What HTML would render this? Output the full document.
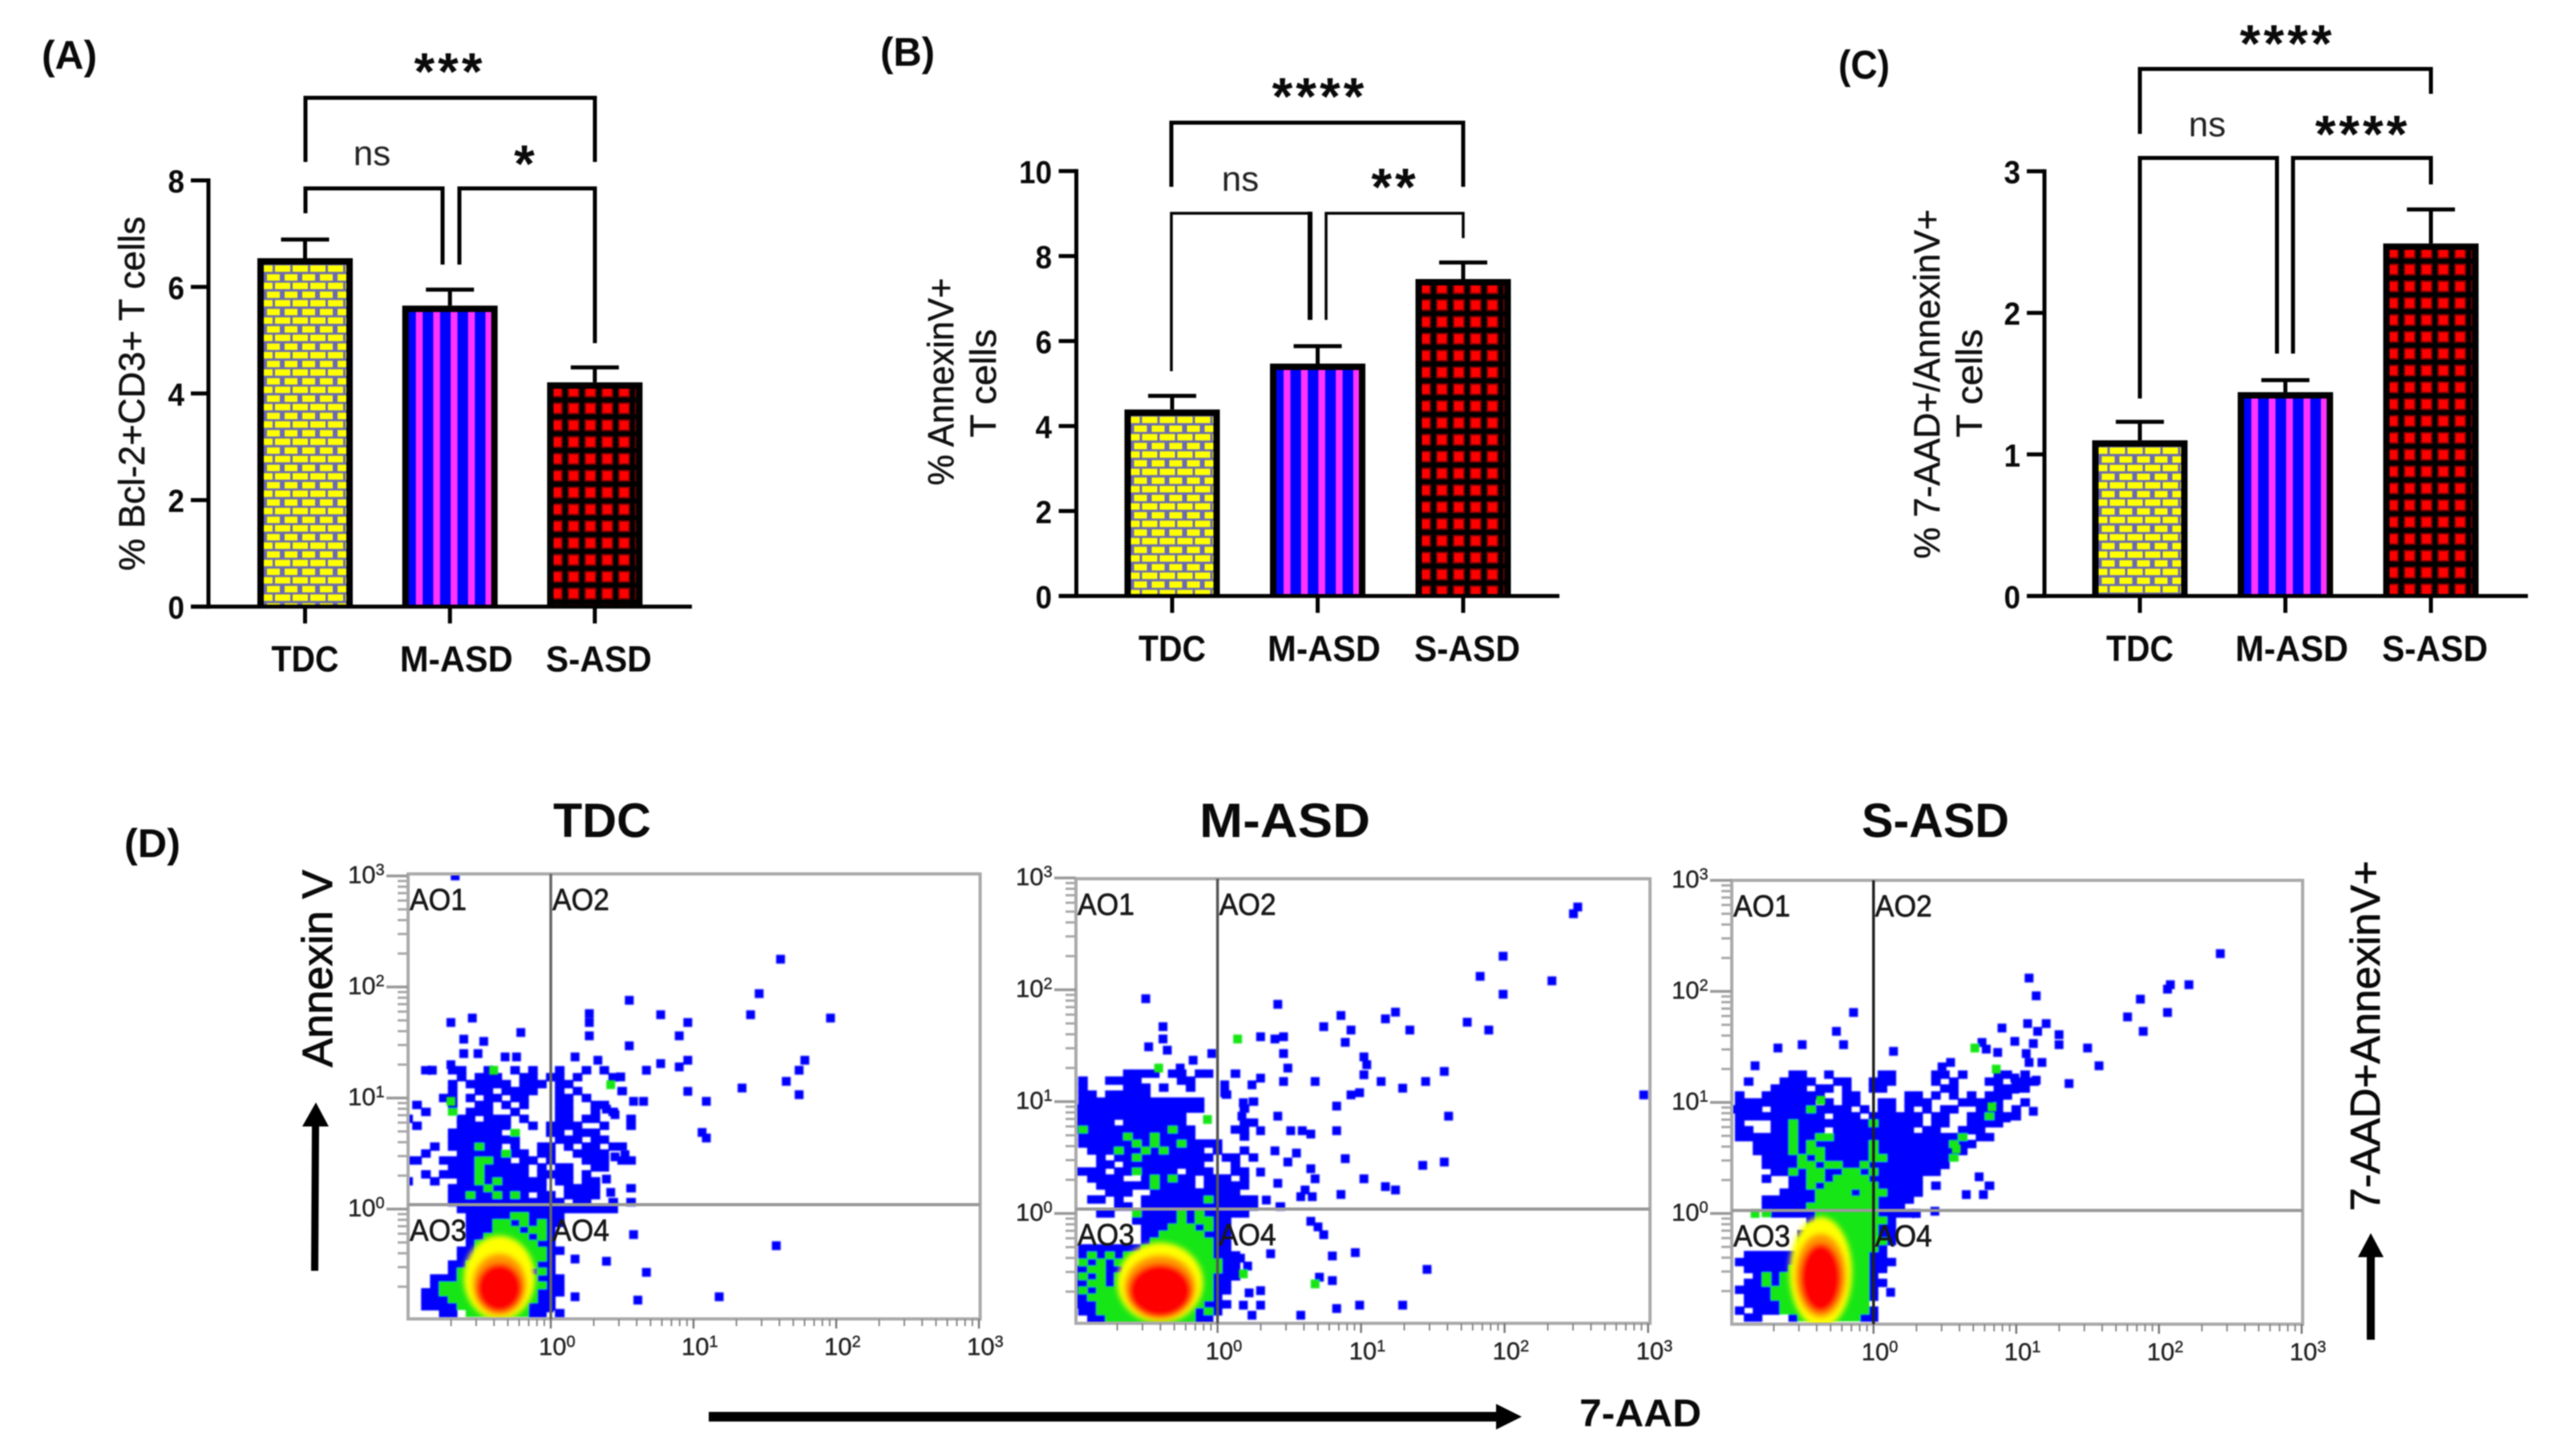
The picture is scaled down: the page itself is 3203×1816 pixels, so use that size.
<!DOCTYPE html>
<html lang="en">
<head>
<meta charset="utf-8">
<title>Apoptosis markers in T cells: TDC, M-ASD and S-ASD</title>
<style>
html,body{margin:0;padding:0;background:#fff;}
svg{display:block;filter:blur(0.7px);}
text{font-family:"Liberation Sans",sans-serif;fill:#0a0a0a;}
.tick{font-weight:700;font-size:40px;}
.cat{font-weight:700;font-size:45px;}
.ytitle{font-size:45px;fill:#111;stroke:#111;stroke-width:.5px;}
.panel{font-weight:700;font-size:50px;}
.flowtitle{font-weight:700;font-size:60px;}
.stars{font-weight:700;font-size:66px;letter-spacing:4px;}
.ns{font-size:44px;fill:#222;}
.br{fill:none;stroke:#000;stroke-width:5;}
</style>
</head>
<body>
<svg id="fig" xmlns="http://www.w3.org/2000/svg" width="3203" height="1816" viewBox="0 0 3203 1816">
<defs>
<pattern id="brick" patternUnits="userSpaceOnUse" width="22" height="21.6">
<rect width="22" height="21.6" fill="#6c6cb0"/>
<rect x="14" y="1" width="8" height="8" fill="#ffff00"/>
<rect x="0" y="1" width="11" height="8" fill="#ffff00"/>
<rect x="4" y="12" width="16" height="8" fill="#ffff00"/>
</pattern>
<pattern id="stripe" patternUnits="userSpaceOnUse" width="21.7" height="20">
<rect width="21.7" height="20" fill="#0000ff"/>
<rect x="9" width="8.5" height="20" fill="#ff33ff"/>
</pattern>
<pattern id="grid" patternUnits="userSpaceOnUse" width="21" height="21" patternTransform="translate(-6.5,-7)">
<rect width="21" height="21" fill="#000"/>
<rect x="3" y="3" width="15" height="15" fill="#800000"/>
<rect x="5" y="5" width="11" height="11" fill="#ff0000"/>
</pattern>
<filter id="soft" x="-10%" y="-10%" width="120%" height="120%"><feGaussianBlur stdDeviation="0.9"/></filter>
<filter id="softBlob" x="-30%" y="-30%" width="160%" height="160%"><feGaussianBlur stdDeviation="3.5"/></filter>
</defs>

<!-- panel letters -->
<text class="panel" x="52" y="86" textLength="69" lengthAdjust="spacingAndGlyphs">(A)</text>
<text class="panel" x="1098" y="82" textLength="68" lengthAdjust="spacingAndGlyphs">(B)</text>
<text class="panel" x="2293" y="98" textLength="64" lengthAdjust="spacingAndGlyphs">(C)</text>
<text class="panel" x="155" y="1069" textLength="70" lengthAdjust="spacingAndGlyphs">(D)</text>

<!-- y axis titles -->
<text class="ytitle" transform="translate(180,491) rotate(-90)" text-anchor="middle" textLength="442" lengthAdjust="spacingAndGlyphs">% Bcl-2+CD3+ T cells</text>
<text class="ytitle" transform="translate(1189,476) rotate(-90)" text-anchor="middle" textLength="259" lengthAdjust="spacingAndGlyphs">% AnnexinV+</text>
<text class="ytitle" transform="translate(1242,478) rotate(-90)" text-anchor="middle" textLength="135" lengthAdjust="spacingAndGlyphs">T cells</text>
<text class="ytitle" transform="translate(2419,479) rotate(-90)" text-anchor="middle" textLength="436" lengthAdjust="spacingAndGlyphs">% 7-AAD+/AnnexinV+</text>
<text class="ytitle" transform="translate(2472,478) rotate(-90)" text-anchor="middle" textLength="135" lengthAdjust="spacingAndGlyphs">T cells</text>

<!-- significance brackets, panel A -->
<g>
<path class="br" d="M381 202V122H742V202"/>
<path class="br" d="M381 266V235H552V330"/>
<path class="br" d="M573 330V235H742V428"/>
<text class="stars" x="561" y="112" text-anchor="middle">***</text>
<text class="ns" x="464" y="206" text-anchor="middle">ns</text>
<text class="stars" x="656" y="227" text-anchor="middle">*</text>
</g>

<!-- significance brackets, panel B -->
<g>
<path class="br" d="M1461 233V153H1825V233"/>
<path class="br" style="stroke-width:3.5" d="M1461 463V266H1634"/>
<path class="br" style="stroke-width:6" d="M1634 264V399"/>
<path class="br" style="stroke-width:3.5" d="M1654 399V266H1825V297"/>
<text class="stars" x="1646" y="143" text-anchor="middle">****</text>
<text class="ns" x="1547" y="238" text-anchor="middle">ns</text>
<text class="stars" x="1740" y="256" text-anchor="middle">**</text>
</g>

<!-- significance brackets, panel C -->
<g>
<path class="br" d="M2669 167V86H3032V117"/>
<path class="br" d="M2669 497V197H2840V441"/>
<path class="br" d="M2860 441V197H3032V230"/>
<text class="stars" x="2853" y="77" text-anchor="middle">****</text>
<text class="ns" x="2753" y="170" text-anchor="middle">ns</text>
<text class="stars" x="2947" y="190" text-anchor="middle">****</text>
</g>

<g id="bars"></g>
<g id="flow"></g>

<!-- flow panel titles -->
<text class="flowtitle" x="690" y="1044" textLength="122" lengthAdjust="spacingAndGlyphs">TDC</text>
<text class="flowtitle" x="1496" y="1044" textLength="213" lengthAdjust="spacingAndGlyphs">M-ASD</text>
<text class="flowtitle" x="2322" y="1044" textLength="184" lengthAdjust="spacingAndGlyphs">S-ASD</text>

<!-- flow axis labels and arrows -->
<text transform="translate(414,1208) rotate(-90)" text-anchor="middle" font-size="53" stroke="#0a0a0a" stroke-width="1" textLength="246" lengthAdjust="spacingAndGlyphs">Annexin V</text>
<path d="M388 1585L389 1405H377L394 1375L410 1405H398L397 1585Z" fill="#000"/>
<path d="M884 1761H1866V1751L1898 1767L1866 1783V1773H884Z" fill="#000"/>
<text x="1970" y="1779" font-size="48" font-weight="700" textLength="152" lengthAdjust="spacingAndGlyphs">7-AAD</text>
<path d="M2952 1671V1568H2941L2957 1538L2973 1568H2962V1671Z" fill="#000"/>
<text transform="translate(2968,1292) rotate(-90)" text-anchor="middle" font-size="52" stroke="#0a0a0a" stroke-width=".8" textLength="437" lengthAdjust="spacingAndGlyphs">7-AAD+AnnexinV+</text>

<script>
const categories = ['TDC', 'M-ASD', 'S-ASD'];

const panelAMeans = [6.54, 5.65, 4.21];
const panelAErrors = [0.35, 0.30, 0.28];
const panelATicks = [0, 2, 4, 6, 8];

const panelBMeans = [4.39, 5.47, 7.46];
const panelBErrors = [0.32, 0.41, 0.39];
const panelBTicks = [0, 2, 4, 6, 8, 10];

const panelCMeans = [1.10, 1.44, 2.49];
const panelCErrors = [0.13, 0.085, 0.24];
const panelCTicks = [0, 1, 2, 3];

const flowDecades = [0, 1, 2, 3];
const minorMultipliers = [2, 3, 4, 5, 6, 7, 8, 9];

/* Flow plots: pseudocolour density rows (0 empty, 1 low = blue, 2 medium = green);
   16 bins per decade, first column at log10 = -1, first row at log10 = 1.25. */
const tdcDensityRows = [
"0010011001001010010010100000000000",
"0000001011100110110100010000000000",
"0000010111110111011000000000000000",
"0000010011011110010100001000000000",
"0000110101101100011010000000000000",
"0100010011010100011001100000000000",
"0010020111001000011001010000000000",
"1000001101110100011011000100000000",
"0100001111110010111100100100000000",
"0000011111102000110111000000000000",
"0000011111111000011101100000000000",
"0001011121101001101011011000000000",
"0010001111121101100111100000000000",
"1100111122110110100011101100000000",
"0000011121111101011001100000000000",
"0010111121111101111010000000000000",
"1001001121211111011011000000000000",
"0000011112111111001111000100000000",
"0000011211212101101111000000000000",
"0000011111111111110110010100000000",
"0000001111111111111111110000000000",
"0000000111112211110000000000000000",
"0000000111221212110000000000000000",
"0000000111222122100000000000000000",
"0000000112222212100000000000000000",
"0000000122222221100000000000000000",
"0000001122222222110000000000000000",
"0000001122222222100000000000000000",
"0000011222222221100000000000000000",
"0000012222222212100000000000000000",
"0001112222222221110000000000000000",
"0001222222222222110000000000000000",
"0011222222222221110000000000000000",
"0011122222222221100000000000000000",
"0011112222222211100000000000000000",
"0000110222222211010000000000000000"
];
const mAsdDensityRows = [
"0000001111011011001000000000000000",
"0100111100001100000000000000000000",
"0100001110100100000000000000000000",
"0110111110000000010000000000000000",
"0111111111111110000010000000000000",
"1111111111111110000100000000000000",
"1111111111111000000000000000000000",
"1111101111111000000110000000000000",
"1211111111121100001100000000000000",
"0111112112111100000100000000000000",
"0111111212112111100000000000000000",
"0011121121211110100100000000000000",
"0001011211111111011010000000000000",
"0001101111111110001000000000000000",
"1111011211110111001100000000000000",
"0011110012121101110100000000000000",
"0001111112111101111100000000000000",
"0000111001111111111000000000000000",
"0011010011111112111110000000000000",
"0000011011111111111110010000000000",
"0001100211112121111100000000000000",
"0000000111112122110000000000000000",
"0000000011122212110000000000000000",
"0000000011222221110000000000000000",
"0000000012222222110000000000000000",
"0111111122222222110000000000000000",
"0121212222222222111000000000000000",
"0212122222222222211000000000000000",
"1122112222222222211000000000000000",
"1212122222222222111000000000000000",
"1122122222222222110000000000000000",
"1212222222222222110000000000000000",
"1122222222222222100000000000000000",
"1112222222222221110000000000000000",
"0112222222222212100000000000000000",
"0011222222222211000000000000000000"
];
const sAsdDensityRows = [
"0000000110010000011000011010001101000000",
"0010001111001100111000010100011011100000",
"0000011110110100110000001100001111000000",
"0100111111100110000011010101011100000000",
"0111111111010110011011100011111001000000",
"1111011112111101011010101100111010000000",
"0111111111101110111111011001121110000000",
"0100011211111111211111011001111000000000",
"0110011211101111111110110011100000000000",
"0111111211221111111111111120110000000000",
"0001111212111111211111111211000000000000",
"0001111212211111211111111110000000000000",
"0000111121211111221111111200000000000000",
"0000111122122112111111111000000000000000",
"0000011212211221211111110000000000000000",
"0000100112212222111111000000000000000000",
"0000000112122222211111010000010000000000",
"0000001111222212221111000000000000000000",
"0000111111222222211110000000000000000000",
"0000111112222222211100000000000000000000",
"0000211111222222211110000000000000000000",
"0000000001222222221000000000000000000000",
"0000000002222222211000000000000000000000",
"0000000012222222211000000000000000000000",
"0000000022222222221000000000000000000000",
"0000000022222222210000000000000000000000",
"0011111112222222110000000000000000000000",
"0111111122222222111000000000000000000000",
"0011111222222222110000000000000000000000",
"0001212222222222100000000000000000000000",
"0011212222222222110000000000000000000000",
"0111122222222222100000000000000000000000",
"0011122222222222100000000000000000000000",
"0011112222222222000000000000000000000000",
"0101112222222222100000000000000000000000",
"0011000122222221100000000000000000000000"
];

/* Individual events: [log10 7-AAD, log10 Annexin V] */
const tdcBlueEvents = [[1.61,2.25],[1.46,1.94],[.55,1.88],[.77,1.75],[.27,1.76],[.27,1.68],[.96,1.68],[1.40,1.75],[1.96,1.72],[.90,1.56],[.27,1.56],[.55,1.47],[1.78,1.34],[1.74,1.25],[.96,1.34],[.90,1.28],[.77,1.31],[.67,1.25],[.33,1.34],[.17,1.37],[.49,1.19],[1.65,1.15],[1.34,1.09],[.96,1.06],[1.74,1.03],[1.09,.97],[.58,.97],[.65,.97],[1.06,.69],[1.09,.64],[.45,.85],[.39,.9],[.52,.49],[.45,.47],[.39,.27],[.42,.15],[.58,-.23],[1.58,-.33],[.17,-.45],[.39,-.47],[.67,-.57],[.02,-.7],[.17,-.79],[.61,-.82],[1.18,-.79],[-.01,-.89],[-.7,1.68],[-.55,1.72],[-.21,1.59],[-.61,1.53],[-.47,1.51],[-.67,3.0],[-.61,1.4],[-.51,1.4],[-.32,1.37],[-.24,1.37],[-.7,1.3],[-.83,1.25]];
const tdcGreenEvents = [[.42,1.12],[-.4,1.25],[-.7,.97]];
const mAsdBlueEvents = [[2.51,2.74],[2.48,2.68],[1.99,2.3],[1.83,2.12],[2.33,2.08],[1.99,1.96],[.42,1.87],[.86,1.77],[1.24,1.8],[1.17,1.74],[.74,1.67],[.93,1.64],[1.34,1.64],[1.74,1.71],[1.89,1.64],[.3,1.58],[.4,1.56],[.46,1.58],[.89,1.53],[.46,1.43],[1.02,1.4],[1.04,1.33],[.49,1.3],[1.58,1.27],[1.02,1.24],[.3,1.21],[.24,1.15],[.46,1.18],[.68,1.18],[1.14,1.18],[1.45,1.18],[1.29,1.12],[.05,1.15],[.05,1.08],[.99,1.08],[.93,1.06],[2.97,1.06],[.83,.96],[.18,.99],[.17,.87],[.42,.87],[1.61,.87],[.3,.74],[.83,.74],[.51,.74],[.59,.74],[.65,.71],[.4,.56],[.55,.54],[.49,.46],[.89,.49],[.65,.4],[1.43,.43],[1.58,.46],[.68,.31],[1.02,.31],[.42,.27],[.3,.37],[1.17,.24],[1.24,.21],[.86,.17],[.61,.21],[.58,.15],[.66,.15],[.34,.12],[.65,-.07],[.7,-.12],[.74,-.19],[.8,-.38],[.96,-.35],[.37,-.36],[1.46,-.5],[.71,-.57],[.8,-.6],[.16,-.4],[.21,-.47],[.3,-.69],[.22,-.71],[.3,-.82],[.18,-.82],[.24,-.91],[.58,-.91],[.83,-.85],[.99,-.82],[1.29,-.82],[.05,-.6],[.1,-.54],[-.5,1.92],[-.38,1.67],[-.38,1.56],[-.48,1.49],[-.35,1.46],[-.04,1.43],[-.17,1.37],[-.26,1.3]];
const mAsdGreenEvents = [[.14,1.56],[-.41,1.3],[-.07,.84],[.68,-.63],[.18,-.54]];
const sAsdBlueEvents = [[2.43,2.34],[1.09,2.12],[1.14,1.96],[2.08,2.06],[2.06,2.02],[2.21,2.06],[1.87,1.93],[2.06,1.81],[1.78,1.77],[1.89,1.64],[-.14,1.81],[-.26,1.64],[-.21,1.52],[.9,1.67],[1.08,1.71],[1.21,1.71],[1.15,1.64],[1.3,1.61],[1.3,1.52],[.99,1.55],[1.12,1.53],[.76,1.54],[1.5,1.49],[1.58,1.33],[.14,1.46],[1.07,1.44],[.87,1.45],[.79,1.48],[1.18,1.36],[1.37,1.17],[1.09,1.36],[.54,1.36],[.48,1.32],[-.67,1.49],[-.5,1.52],[-.83,1.33],[.74,.33],[.65,.17],[.77,.17],[.3,0],[.43,.02],[.06,-.48],[.12,-.71],[1.12,.92],[.93,.86],[.99,1.12],[.87,1.04],[.99,1.22],[1.14,1.2]];
const sAsdGreenEvents = [[.86,1.3],[.71,1.49],[-.37,1.02],[.58,.58],[.83,.96],[-.83,0]];

/* Density cores: [centre log10 x, centre log10 y, radius x, radius y] for yellow, orange, red levels */
const tdcCoreLevels = [[-.36,-.62,.25,.38],[-.36,-.68,.19,.28],[-.36,-.71,.16,.22]];
const mAsdCoreLevels = [[-.40,-.62,.30,.36],[-.40,-.66,.25,.29],[-.40,-.69,.22,.24]];
const sAsdCoreLevels = [[-.37,-.53,.22,.50],[-.37,-.56,.18,.38],[-.37,-.58,.145,.31]];

const NS = 'http://www.w3.org/2000/svg';
function mk(tag, attrs, parent) {
  const el = document.createElementNS(NS, tag);
  for (const k in attrs) el.setAttribute(k, attrs[k]);
  parent.appendChild(el);
  return el;
}

function drawBarPanel(id, cfg, means, errors, ticks) {
  const root = document.getElementById('bars');
  const g = mk('g', {}, root);
  
  
  const yScale = v => cfg.y0 - v * cfg.unit;
  const xScale = i => cfg.x0 + i * cfg.step;
  const patterns = ['brick', 'stripe', 'grid'];
  const barW = 119, bw = 8;

  means.forEach((m, i) => {
    const cx = xScale(i), top = yScale(m);
    const capY = yScale(m + errors[i]);
    const stem = mk('line', {x1: cx, x2: cx, y1: capY, y2: top, stroke: '#000', 'stroke-width': 5}, g);
    
    
    const cap = mk('line', {x1: cx - 30, x2: cx + 30, y1: capY, y2: capY, stroke: '#000', 'stroke-width': 5}, g);
    
    
    const outer = mk('rect', {x: cx - barW / 2, y: top, width: barW, height: cfg.y0 - top, fill: '#000'}, g);
    
    
    const inner = mk('rect', {x: 0, y: 0, width: barW - 2 * bw, height: Math.max(0, cfg.y0 - top - bw),
      fill: 'url(#' + patterns[i] + ')', transform: 'translate(' + (cx - barW / 2 + bw) + ',' + (top + bw) + ')'}, g);
    
    
  });

  const topTick = ticks[ticks.length - 1];
  const yAxis = mk('line', {x1: cfg.axisX, x2: cfg.axisX, y1: yScale(topTick) - 2.5, y2: cfg.y0 + 2.5, stroke: '#000', 'stroke-width': 5}, g);
  
  
  const xAxis = mk('line', {x1: cfg.axisX - 22, x2: cfg.axisEnd, y1: cfg.y0, y2: cfg.y0, stroke: '#000', 'stroke-width': 5}, g);
  
  

  ticks.forEach(t => {
    const y = yScale(t);
    const tk = mk('line', {x1: cfg.axisX - 22, x2: cfg.axisX, y1: y, y2: y, stroke: '#000', 'stroke-width': 5}, g);
    
    
    const s = String(t);
    const lb = mk('text', {x: cfg.labelX, y: y + 15, 'text-anchor': 'end', class: 'tick', textLength: 20.5 * s.length, lengthAdjust: 'spacingAndGlyphs'}, g);
    lb.textContent = s;
    
    
  });

  const labelWidths = [84, 141, 132];
  categories.forEach((c, i) => {
    const cx = xScale(i);
    const tk = mk('line', {x1: cx, x2: cx, y1: cfg.y0, y2: cfg.y0 + 21, stroke: '#000', 'stroke-width': 5}, g);
    
    
    const nudge = i === 0 ? 0 : (i === 1 ? 8 : 5);
    const lb = mk('text', {x: cx + nudge, y: cfg.y0 + 81, 'text-anchor': 'middle', class: 'cat', textLength: labelWidths[i], lengthAdjust: 'spacingAndGlyphs'}, g);
    lb.textContent = c;
    
    
  });
}

drawBarPanel('a', {y0: 756.6, unit: 66.45, x0: 380.5, step: 180.7, axisX: 260, axisEnd: 863, labelX: 230}, panelAMeans, panelAErrors, panelATicks);
drawBarPanel('b', {y0: 743.4, unit: 53, x0: 1462, step: 181.5, axisX: 1342.5, axisEnd: 1945, labelX: 1312}, panelBMeans, panelBErrors, panelBTicks);
drawBarPanel('c', {y0: 743.4, unit: 176.6, x0: 2669, step: 181.5, axisX: 2550, axisEnd: 3153, labelX: 2520}, panelCMeans, panelCErrors, panelCTicks);

function drawFlowPlot(id, cfg, rows, blue, green, core) {
  const root = document.getElementById('flow');
  const g = mk('g', {}, root);
  
  
  const xScale = lx => cfg.gateX + lx * cfg.dx;
  const yScale = ly => cfg.y0 - ly * cfg.dy;
  const defs = mk('clipPath', {id: 'clip-' + id}, g);
  mk('rect', {x: cfg.left, y: cfg.top, width: cfg.right - cfg.left, height: cfg.bottom - cfg.top}, defs);

  const dots = mk('g', {'clip-path': 'url(#clip-' + id + ')'}, g);
  
  
  const cellsG = mk('g', {filter: 'url(#soft)'}, dots);
  const colours = {1: '#0000ff', 2: '#12e612'};
  [1, 2].forEach(level => {
    rows.forEach((row, r) => {
      for (let c = 0; c < row.length; c++) {
        if (+row[c] !== level) continue;
        const px = xScale(-1 + c / 16), py = yScale(1.25 - r / 16);
        const w = 12, h = level === 1 ? 10.5 : 9.5;
        const cell = mk('rect', {x: px - w / 2, y: py - h / 2, width: w, height: h, fill: colours[level]}, cellsG);
        
        
      }
    });
  });
  const coreG = mk('g', {filter: 'url(#softBlob)'}, dots);
  const coreColours = ['#ffff00', '#ff9a00', '#ff0000'];
  core.forEach((e, i) => {
    const el = mk('ellipse', {cx: xScale(e[0]), cy: yScale(e[1]), rx: e[2] * cfg.dx, ry: e[3] * cfg.dy, fill: coreColours[i]}, coreG);
    
    
  });
  const evG = mk('g', {filter: 'url(#soft)'}, dots);
  blue.forEach(p => {
    const pt = mk('rect', {x: xScale(p[0]) - 5.5, y: yScale(p[1]) - 5.5, width: 11, height: 11, fill: '#0000ff'}, evG);
    
    
  });
  green.forEach(p => {
    const pt = mk('rect', {x: xScale(p[0]) - 5.5, y: yScale(p[1]) - 5.5, width: 11, height: 11, fill: '#12e612'}, evG);
    
    
  });

  /* frame and gates */
  const frame = mk('rect', {x: cfg.left, y: cfg.top, width: cfg.right - cfg.left, height: cfg.bottom - cfg.top, fill: 'none', stroke: '#aaa', 'stroke-width': 4}, g);
  
  
  const hg = mk('line', {x1: cfg.left, x2: cfg.right, y1: cfg.hGate, y2: cfg.hGate, stroke: '#999', 'stroke-width': 4}, g);
  
  
  const vg = mk('line', {x1: cfg.gateX, x2: cfg.gateX, y1: cfg.top, y2: cfg.bottom, stroke: cfg.vColor, 'stroke-width': 3.5}, g);
  
  

  /* quadrant labels */
  [['AO1', cfg.left + 2, cfg.top + 45], ['AO2', cfg.gateX + 2, cfg.top + 45], ['AO3', cfg.left + 2, cfg.hGate + 45], ['AO4', cfg.gateX + 2, cfg.hGate + 45]].forEach(q => {
    const t = mk('text', {x: q[1], y: q[2], 'font-size': 38, textLength: 71, lengthAdjust: 'spacingAndGlyphs', style: 'fill:#181818;stroke:#181818;stroke-width:.7px'}, g);
    t.textContent = q[0];
    
    
  });

  /* log ticks */
  const tickG = mk('g', {}, g);
  
  
  flowDecades.forEach(d => {
    const yy = yScale(d);
    const yt = mk('line', {x1: cfg.left - 27, x2: cfg.left, y1: yy, y2: yy, stroke: '#999', 'stroke-width': 3.5}, tickG);
    
    
    const xx = xScale(d);
    const xt = mk('line', {x1: xx, x2: xx, y1: cfg.bottom, y2: cfg.bottom + 12, stroke: '#777', 'stroke-width': 2.5}, tickG);
    
    

    const yl = mk('text', {x: cfg.left - 75, y: yy + 9, 'font-size': 31, style: 'fill:#222;stroke:#222;stroke-width:.4px'}, tickG);
    yl.textContent = '10';
    
    
    const ys = mk('tspan', {dy: -10, 'font-size': 20}, yl);
    ys.textContent = String(d);

    const xl = mk('text', {x: xx - 15, y: cfg.bottom + 45, 'font-size': 31, style: 'fill:#222;stroke:#222;stroke-width:.4px'}, tickG);
    xl.textContent = '10';
    
    
    const xs = mk('tspan', {dy: -10, 'font-size': 20}, xl);
    xs.textContent = String(d);
  });
  [-1, 0, 1, 2].forEach(d => {
    minorMultipliers.forEach(m => {
      const l = d + Math.log10(m);
      const yy = yScale(l);
      const ym = mk('line', {x1: cfg.left - 13, x2: cfg.left, y1: yy, y2: yy, stroke: '#aaa', 'stroke-width': 3}, tickG);
      
      
      const xx = xScale(l);
      const xm = mk('line', {x1: xx, x2: xx, y1: cfg.bottom, y2: cfg.bottom + 9, stroke: '#888', 'stroke-width': 2}, tickG);
      
      
    });
  });
}

drawFlowPlot('tdc', {left: 509, right: 1222.5, top: 1090, bottom: 1645, gateX: 687, hGate: 1502.5, y0: 1508, dx: 178, dy: 138.5, vColor: '#666'}, tdcDensityRows, tdcBlueEvents, tdcGreenEvents, tdcCoreLevels);
drawFlowPlot('m-asd', {left: 1342, right: 2058, top: 1096, bottom: 1650.5, gateX: 1518.6, hGate: 1508, y0: 1513.5, dx: 179, dy: 139.5, vColor: '#555'}, mAsdDensityRows, mAsdBlueEvents, mAsdGreenEvents, mAsdCoreLevels);
drawFlowPlot('s-asd', {left: 2160, right: 2872, top: 1098, bottom: 1651.6, gateX: 2336.8, hGate: 1509.7, y0: 1513.5, dx: 178, dy: 138.5, vColor: '#222'}, sAsdDensityRows, sAsdBlueEvents, sAsdGreenEvents, sAsdCoreLevels);
</script>
</svg>
</body>
</html>
